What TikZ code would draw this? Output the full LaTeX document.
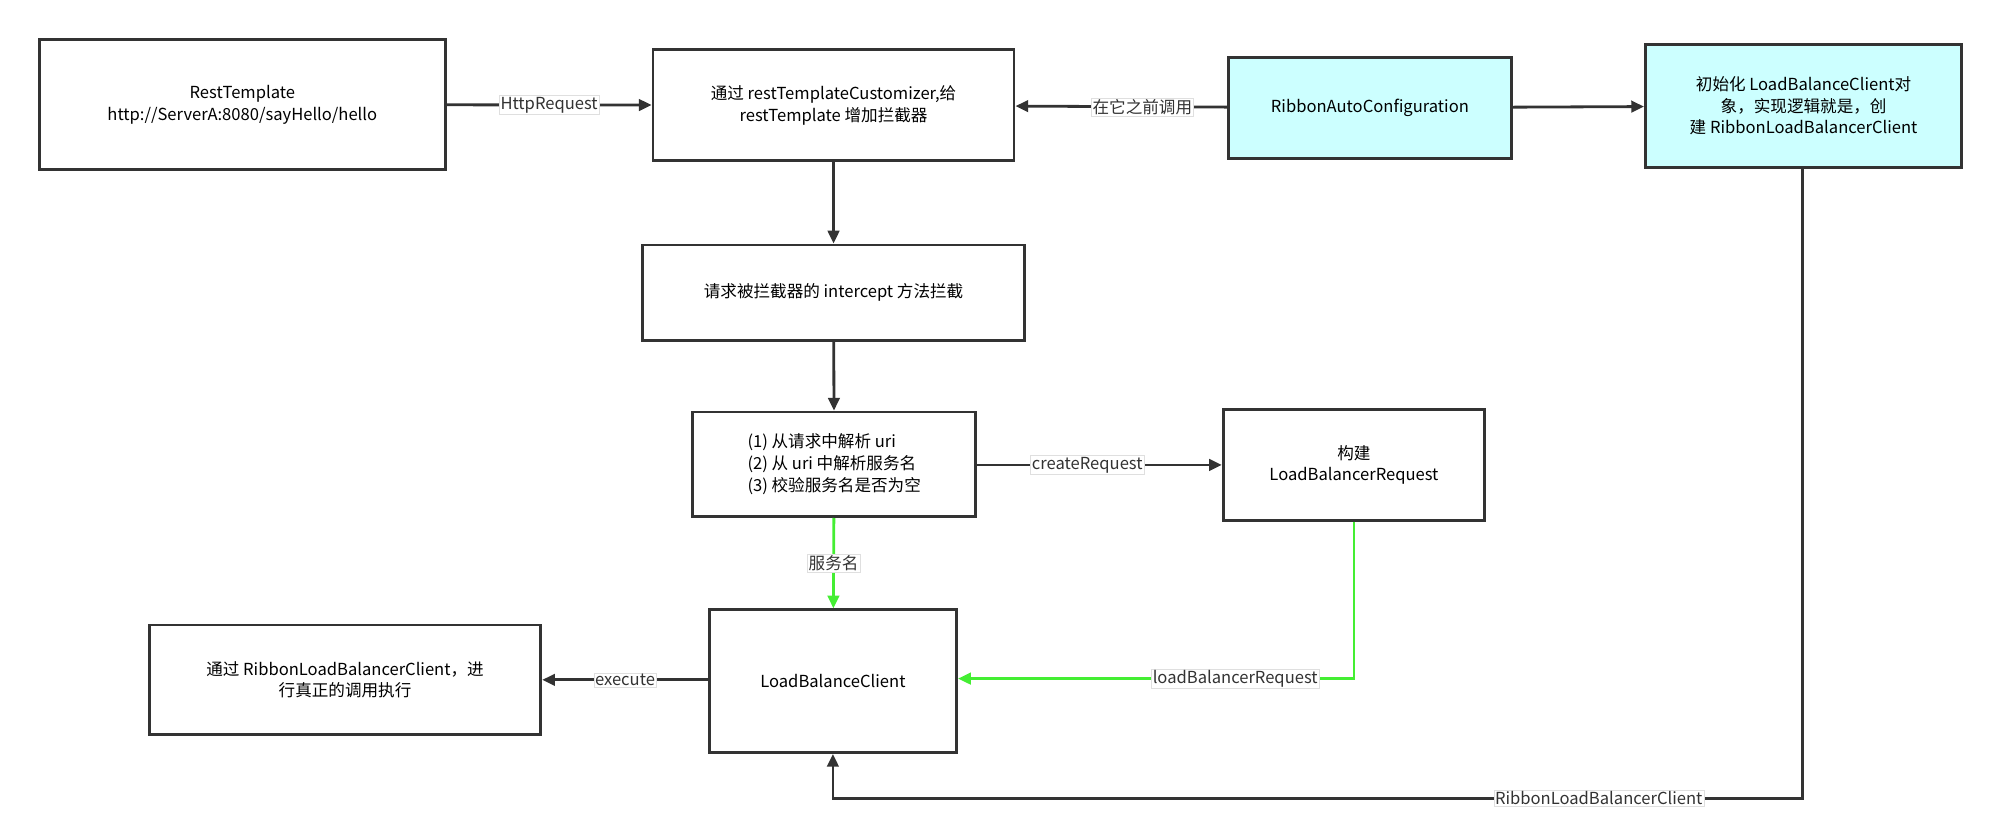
\documentclass[tikz,border=0pt]{standalone}
\usepackage{fontspec}
\setmainfont{Noto Sans CJK SC}
\usetikzlibrary{arrows.meta}
\definecolor{ln}{HTML}{333333}
\definecolor{cy}{HTML}{CCFFFF}
\definecolor{gr}{HTML}{44EE33}
\tikzset{
  box/.style={draw=ln,line width=2.2pt,align=center,font=\fontsize{13}{17}\selectfont,inner sep=0pt},
  conn/.style={draw=ln,line width=2.2pt,-{Triangle[length=10pt,width=9pt]}},
  gconn/.style={draw=gr,line width=2.2pt,-{Triangle[length=10pt,width=9pt]}},
  lab/.style={fill=white,draw=gray!25,line width=0.3pt,inner sep=1pt,font=\fontsize{13}{15}\selectfont,text=ln}
}
\begin{document}
\begin{tikzpicture}[x=1pt,y=-1pt]
\useasboundingbox (0,0) rectangle (1568,657);
\node[box,minimum width=318,minimum height=102] (rt) at (190,82) {RestTemplate\\http://ServerA:8080/sayHello/hello};
\node[box,minimum width=283,minimum height=87] (cu) at (653.5,82.5) {通过 restTemplateCustomizer,给\\restTemplate 增加拦截器};
\node[box,fill=cy,minimum width=222,minimum height=79] (ra) at (1074,84.5) {RibbonAutoConfiguration};
\node[box,fill=cy,minimum width=248,minimum height=96] (in) at (1414,83) {初始化 LoadBalanceClient对\\象，实现逻辑就是，创\\建 RibbonLoadBalancerClient};
\node[box,minimum width=299,minimum height=75] (rq) at (653.5,229.5) {请求被拦截器的 intercept 方法拦截};
\node[box,minimum width=222,minimum height=82,align=left] (pa) at (654,364) {(1) 从请求中解析 uri\\(2) 从 uri 中解析服务名\\(3) 校验服务名是否为空};
\node[box,minimum width=205,minimum height=87] (bd) at (1061.5,364.5) {构建\\LoadBalancerRequest};
\node[box,minimum width=194,minimum height=112] (lb) at (653,534) {LoadBalanceClient};
\node[box,minimum width=307,minimum height=86] (ex) at (270.5,533) {通过 RibbonLoadBalancerClient，进\\行真正的调用执行};
\draw[conn] (rt) -- node[lab]{HttpRequest} (cu);
\draw[conn] (ra) -- node[lab,pos=0.4]{在它之前调用} (cu);
\draw[conn] (ra) -- (in);
\draw[conn] (cu) -- (rq);
\draw[conn] (rq) -- (pa);
\draw[conn] (pa.east |- bd) -- node[lab,pos=0.45]{createRequest} (bd);
\draw[gconn] (pa) -- node[lab]{服务名} (lb);
\draw[gconn] (bd.south) |- node[lab,pos=0.65]{loadBalancerRequest} (lb.east |- 0,532);
\draw[conn] (lb.west |- ex) -- node[lab]{execute} (ex);
\coordinate (c1) at (1413,626);
\draw[conn] (in.south -| c1) -- (c1) -- node[lab,pos=0.21]{RibbonLoadBalancerClient} (lb.south |- c1) -- (lb.south);
\end{tikzpicture}
\end{document}
